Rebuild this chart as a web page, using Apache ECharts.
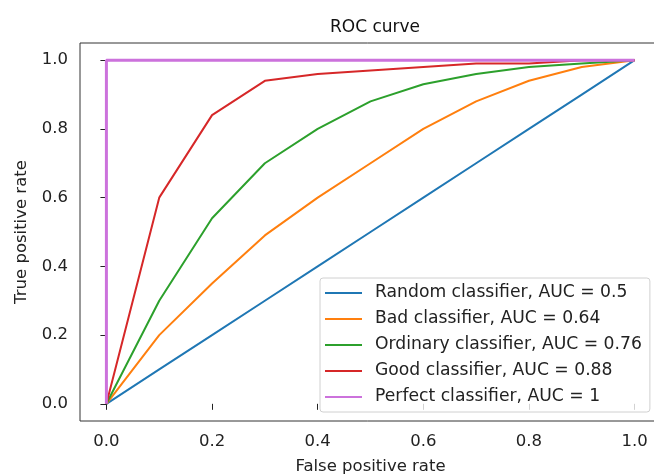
<!DOCTYPE html>
<html>
<head>
<meta charset="utf-8">
<script src="https://cdn.jsdelivr.net/npm/echarts@6/dist/echarts.min.js"></script>
<style>html,body{margin:0;padding:0;background:#fff}#c{width:654px;height:476px}</style>
</head>
<body>
<div id="c"></div>
<script>
// Data
var fpr = [0, 0.1, 0.2, 0.3, 0.4, 0.5, 0.6, 0.7, 0.8, 0.9, 1.0];
var tprRandom = [0, 0.1, 0.2, 0.3, 0.4, 0.5, 0.6, 0.7, 0.8, 0.9, 1.0];
var tprBad = [0, 0.2, 0.35, 0.49, 0.6, 0.7, 0.8, 0.88, 0.94, 0.98, 1.0];
var tprOrdinary = [0, 0.3, 0.54, 0.7, 0.8, 0.88, 0.93, 0.96, 0.98, 0.99, 1.0];
var tprGood = [0, 0.6, 0.84, 0.94, 0.96, 0.97, 0.98, 0.99, 0.99, 1.0, 1.0];
var fprPerfect = [0, 0, 1];
var tprPerfect = [0, 1, 1];
var seriesNames = ['Random classifier, AUC = 0.5', 'Bad classifier, AUC = 0.64', 'Ordinary classifier, AUC = 0.76', 'Good classifier, AUC = 0.88', 'Perfect classifier, AUC = 1'];
var tickValues = [0, 0.2, 0.4, 0.6, 0.8, 1.0];

var colors = ['#1f77b4', '#ff7f0e', '#2ca02c', '#d62728', '#cc72dc'];
function pairs(xs, ys) { return xs.map(function (x, i) { return [x, ys[i]]; }); }
var datasets = [pairs(fpr, tprRandom), pairs(fpr, tprBad), pairs(fpr, tprOrdinary), pairs(fpr, tprGood), pairs(fprPerfect, tprPerfect)];

var font = 'DejaVu Sans';
var fs = 16.5;
var chart = echarts.init(document.getElementById('c'), null, {renderer: 'canvas'});
var axisCommon = {
  type: 'value', min: -0.05, max: 1.05,
  axisLine: {show: false},
  splitLine: {show: false},
  axisTick: {show: true, customValues: tickValues, length: 6, lineStyle: {color: '#222', width: 1}},
  axisLabel: {customValues: tickValues, color: '#222', fontFamily: font, fontSize: fs, margin: 12,
    formatter: function (v) { return (Math.round(v * 10) / 10).toFixed(1); }},
  nameLocation: 'middle',
  nameTextStyle: {color: '#222', fontFamily: font, fontSize: fs}
};
chart.setOption({
  animation: false,
  color: colors,
  title: {text: 'ROC curve', left: 370, top: 14, textAlign: 'center',
    textStyle: {fontFamily: font, fontSize: 17, fontWeight: 'normal', color: '#111'}},
  grid: {left: 80, top: 43, width: 581, height: 378, show: true, borderColor: '#333', borderWidth: 1,
    containLabel: false, outerBoundsMode: 'none'},
  xAxis: Object.assign({}, axisCommon, {name: 'False positive rate', nameGap: 37}),
  yAxis: Object.assign({}, axisCommon, {name: 'True positive rate', nameGap: 50}),
  legend: {
    orient: 'vertical', left: 320, top: 278,
    padding: [5, 8, 5, 5], itemGap: 6, itemWidth: 37, itemHeight: 2, icon: 'rect',
    backgroundColor: 'rgba(255,255,255,0.8)', borderColor: '#d0d0d0', borderWidth: 1, borderRadius: 3,
    textStyle: {fontFamily: font, fontSize: 17.2, color: '#222', padding: [0, 0, 0, 8], lineHeight: 20},
    data: seriesNames
  },
  series: datasets.map(function (d, i) {
    return {
      name: seriesNames[i], type: 'line', data: d, showSymbol: false, symbol: 'none',
      lineStyle: {width: i === 4 ? 3 : 2, color: colors[i]},
      itemStyle: {color: colors[i]},
      z: 2 + i
    };
  })
});
</script>
</body>
</html>
